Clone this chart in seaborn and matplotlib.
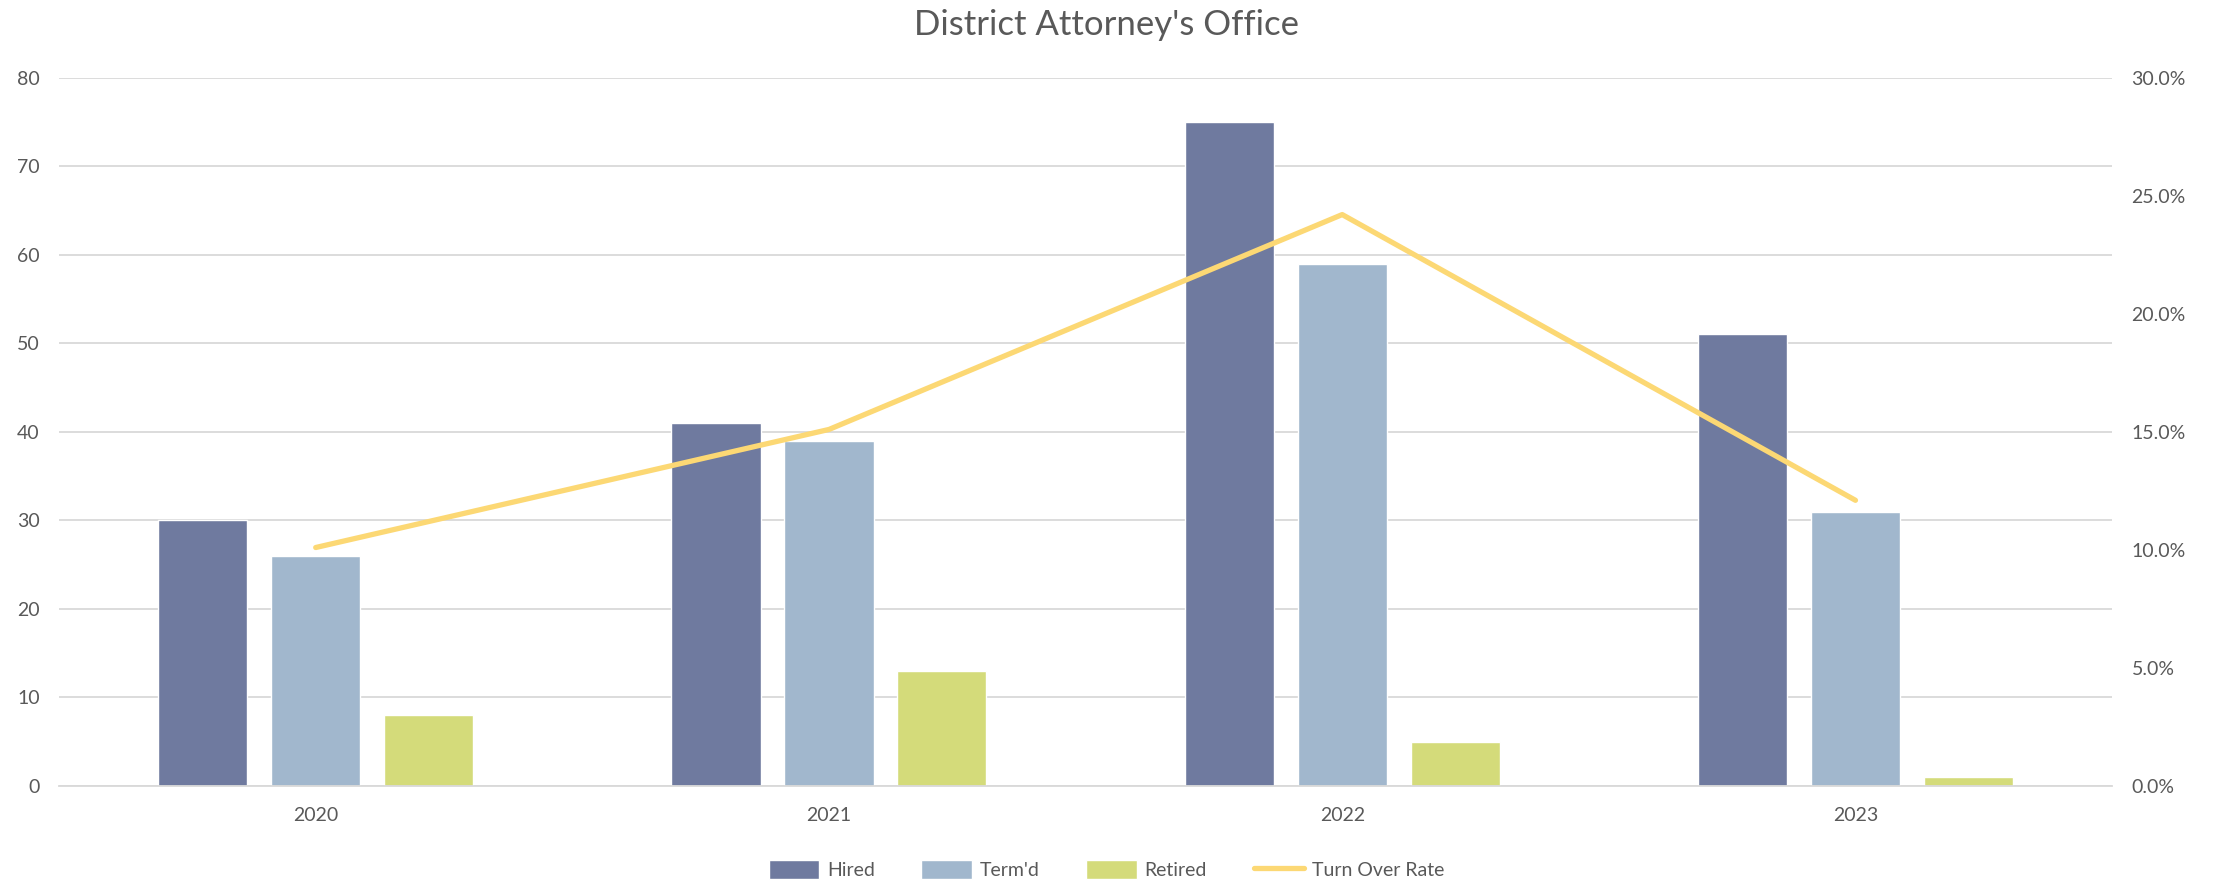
import pandas as pd
import numpy as np
import matplotlib.pyplot as plt
import seaborn as sns
from matplotlib.ticker import PercentFormatter

sns.set_theme(style='white')
plt.rcParams['font.family'] = ['Lato', 'DejaVu Sans']

# data
years = ['2020', '2021', '2022', '2023']
hired = [30, 41, 75, 51]
termd = [26, 39, 59, 31]
retired = [8, 13, 5, 1]
turnover = [10.1, 15.1, 24.2, 12.1]

series = ['Hired', "Term'd", 'Retired']
colors = ['#6F7A9F', '#A1B7CD', '#D4DB7A']
line_color = '#FCD874'
text_color = '#595959'

df = pd.DataFrame({'Year': years * 3,
                   'Series': [s for s in series for _ in years],
                   'Value': hired + termd + retired})

fig = plt.figure(figsize=(22.13, 8.8), dpi=100)
ax = fig.add_axes([0.0267, 0.1068, 0.9277, 0.805])

sns.barplot(data=df, x='Year', y='Value', hue='Series', palette=colors,
            width=0.66, gap=0.21, ax=ax, saturation=1)
ax.set_xlim(-0.5, 3.5)
ax.set_ylim(0, 80)
ax.set_yticks(range(0, 81, 10))
ax.yaxis.grid(True, color='#D9D9D9', linewidth=1.3)
ax.set_axisbelow(True)
ax.set_xlabel('')
ax.set_ylabel('')
for s in ['top', 'right', 'left']:
    ax.spines[s].set_visible(False)
ax.spines['bottom'].set_color('#D9D9D9')
ax.spines['bottom'].set_linewidth(1.3)
ax.tick_params(axis='both', length=0, labelsize=14, labelcolor=text_color)
ax.tick_params(axis='y', pad=14)
ax.tick_params(axis='x', pad=15)

ax2 = ax.twinx()
sns.lineplot(x=np.arange(len(years)), y=turnover, ax=ax2, color=line_color,
             linewidth=3.8, solid_capstyle='round', label='Turn Over Rate', legend=False)
ax2.set_ylim(0, 30)
ax2.set_yticks(range(0, 31, 5))
ax2.yaxis.set_major_formatter(PercentFormatter(decimals=1))
for s in ax2.spines.values():
    s.set_visible(False)
ax2.tick_params(axis='y', length=0, labelsize=14, labelcolor=text_color, pad=14)
ax2.set_ylabel('')

h1, l1 = ax.get_legend_handles_labels()
h2, l2 = ax2.get_legend_handles_labels()
ax.get_legend().remove()
fig.legend(h1 + h2, l1 + l2, loc='center', bbox_to_anchor=(0.5, 0.012),
           ncol=4, frameon=False, fontsize=14, labelcolor=text_color,
           handlelength=2.6, handleheight=1.1, columnspacing=2.4, handletextpad=0.4)

fig.suptitle("District Attorney's Office", y=0.972, va='center', fontsize=25, color=text_color)

fig.savefig('out.png', dpi=100)
